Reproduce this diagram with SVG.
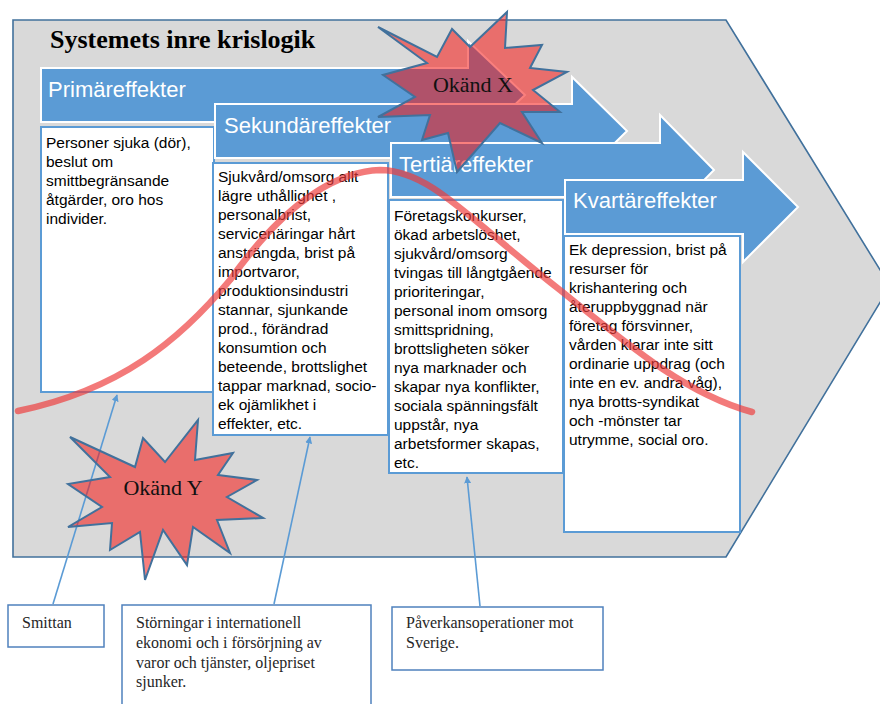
<svg xmlns="http://www.w3.org/2000/svg" width="880" height="704" viewBox="0 0 880 704">
<defs>
<style>
.arrow{fill:#5b9bd5;stroke:#ffffff;stroke-width:2}
.alabel{font-family:"Liberation Sans",Arial,sans-serif;font-size:22px;fill:#ffffff}
.box{fill:#ffffff;stroke:#5b9bd5;stroke-width:2}
.btext{font-family:"Liberation Sans",Arial,sans-serif;font-size:15.5px;fill:#000000}
.star{fill:#f61513;fill-opacity:0.55;stroke:#41719c;stroke-width:2;stroke-linejoin:miter}
.stext{font-family:"Liberation Serif","Times New Roman",serif;font-size:22px;fill:#111111}
.conn{stroke:#5b9bd5;stroke-width:1.6;fill:none}
.lbox{fill:#ffffff;stroke:#4f81bd;stroke-width:1.5}
.ltext{font-family:"Liberation Serif","Times New Roman",serif;font-size:16px;fill:#262626}
</style>
<marker id="ah" viewBox="0 0 10 10" refX="9" refY="5" markerWidth="7" markerHeight="7" markerUnits="userSpaceOnUse" orient="auto">
<path d="M0,0 L10,5 L0,10 Z" fill="#5b9bd5"/>
</marker>
</defs>

<g id="background">
<path d="M13,20 H726 L890,286 L726,557 H13 Z" fill="#d9d9d9" stroke="#41719c" stroke-width="1.6"/>
<text x="50" y="48" font-family="Liberation Serif,'Times New Roman',serif" font-weight="bold" font-size="26px" fill="#000000">Systemets inre krislogik</text>
</g>

<g id="primar">
<path class="arrow" d="M41,68 H468 V41 L525,95 L468,149 V122 H41 Z"/>
<text class="alabel" x="48" y="97">Primäreffekter</text>
</g>
<g id="box-primar">
<rect class="box" x="41" y="127" width="173" height="265"/>
<text class="btext" x="46" y="148">
<tspan x="46">Personer sjuka (dör),</tspan>
<tspan x="46" dy="19">beslut om</tspan>
<tspan x="46" dy="19">smittbegränsande</tspan>
<tspan x="46" dy="19">åtgärder, oro hos</tspan>
<tspan x="46" dy="19">individer.</tspan>
</text>
</g>

<g id="sekundar">
<path class="arrow" d="M215,104 H572 V77 L627,131 L572,185 V158 H215 Z"/>
<text class="alabel" x="224" y="133">Sekundäreffekter</text>
</g>
<g id="box-sekundar">
<rect class="box" x="213" y="163" width="175" height="272"/>
<text class="btext" x="218" y="182">
<tspan x="218">Sjukvård/omsorg allt</tspan>
<tspan x="218" dy="19">lägre uthållighet ,</tspan>
<tspan x="218" dy="19">personalbrist,</tspan>
<tspan x="218" dy="19">servicenäringar hårt</tspan>
<tspan x="218" dy="19">ansträngda, brist på</tspan>
<tspan x="218" dy="19">importvaror,</tspan>
<tspan x="218" dy="19">produktionsindustri</tspan>
<tspan x="218" dy="19">stannar, sjunkande</tspan>
<tspan x="218" dy="19">prod., förändrad</tspan>
<tspan x="218" dy="19">konsumtion och</tspan>
<tspan x="218" dy="19">beteende, brottslighet</tspan>
<tspan x="218" dy="19">tappar marknad, socio-</tspan>
<tspan x="218" dy="19">ek ojämlikhet i</tspan>
<tspan x="218" dy="19">effekter, etc.</tspan>
</text>
</g>

<g id="tertiar">
<path class="arrow" d="M391,143 H660 V115 L714,170 L660,225 V197 H391 Z"/>
<text class="alabel" x="399" y="172">Tertiäreffekter</text>
</g>
<g id="box-tertiar">
<rect class="box" x="389" y="200" width="174" height="273"/>
<text class="btext" x="394" y="221">
<tspan x="394">Företagskonkurser,</tspan>
<tspan x="394" dy="19">ökad arbetslöshet,</tspan>
<tspan x="394" dy="19">sjukvård/omsorg</tspan>
<tspan x="394" dy="19">tvingas till långtgående</tspan>
<tspan x="394" dy="19">prioriteringar,</tspan>
<tspan x="394" dy="19">personal inom omsorg</tspan>
<tspan x="394" dy="19">smittspridning,</tspan>
<tspan x="394" dy="19">brottsligheten söker</tspan>
<tspan x="394" dy="19">nya marknader och</tspan>
<tspan x="394" dy="19">skapar nya konflikter,</tspan>
<tspan x="394" dy="19">sociala spänningsfält</tspan>
<tspan x="394" dy="19">uppstår, nya</tspan>
<tspan x="394" dy="19">arbetsformer skapas,</tspan>
<tspan x="394" dy="19">etc.</tspan>
</text>
</g>

<g id="kvartar">
<path class="arrow" d="M565,180 H743 V152 L798,207 L743,262 V234 H565 Z"/>
<text class="alabel" x="573" y="208">Kvartäreffekter</text>
</g>
<g id="box-kvartar">
<rect class="box" x="564" y="236" width="176" height="296"/>
<text class="btext" x="569" y="255">
<tspan x="569">Ek depression, brist på</tspan>
<tspan x="569" dy="19">resurser för</tspan>
<tspan x="569" dy="19">krishantering och</tspan>
<tspan x="569" dy="19">återuppbyggnad när</tspan>
<tspan x="569" dy="19">företag försvinner,</tspan>
<tspan x="569" dy="19">vården klarar inte sitt</tspan>
<tspan x="569" dy="19">ordinarie uppdrag (och</tspan>
<tspan x="569" dy="19">inte en ev. andra våg),</tspan>
<tspan x="569" dy="19">nya brotts-syndikat</tspan>
<tspan x="569" dy="19">och -mönster tar</tspan>
<tspan x="569" dy="19">utrymme, social oro.</tspan>
</text>
</g>

<g id="kurva">
<path d="M18,411 C120,390 180,340 230,280 C280,210 330,172 380,170 C430,170 470,220 560,290 C640,355 690,395 752,412" fill="none" stroke="#ee3b3b" stroke-opacity="0.68" stroke-width="6.5" stroke-linecap="round"/>
</g>

<g id="connectors">
<line class="conn" x1="53" y1="604" x2="117" y2="395" marker-end="url(#ah)"/>
<line class="conn" x1="274" y1="604" x2="310" y2="437" marker-end="url(#ah)"/>
<line class="conn" x1="480" y1="606" x2="467" y2="477" marker-end="url(#ah)"/>
</g>

<g id="okand-x">
<polygon class="star" points="378,27 437,57 452,29 470,47 507,12 505,48 542,45 530,68 567,72 533,90 560,112 522,112 542,143 500,123 457,172 448,133 422,140 430,115 378,117 415,97 383,75 427,63"/>
<text class="stext" x="473" y="92" text-anchor="middle">Okänd X</text>
</g>

<g id="okand-y">
<polygon class="star" points="70,437 135,467 143,438 165,462 198,420 195,460 233,453 218,475 257,480 227,497 263,518 217,520 230,553 193,527 187,565 163,530 145,580 140,532 110,550 112,523 68,527 102,507 68,484 110,477"/>
<text class="stext" x="163" y="495" text-anchor="middle">Okänd Y</text>
</g>

<g id="smittan">
<rect class="lbox" x="8" y="605" width="96" height="42"/>
<text class="ltext" x="22" y="628">Smittan</text>
</g>

<g id="storningar">
<rect class="lbox" x="122" y="605" width="249" height="110"/>
<text class="ltext" x="136" y="628">
<tspan x="136">Störningar i internationell</tspan>
<tspan x="136" dy="20">ekonomi och i försörjning av</tspan>
<tspan x="136" dy="20">varor och tjänster, oljepriset</tspan>
<tspan x="136" dy="19">sjunker.</tspan>
</text>
</g>

<g id="paverkan">
<rect class="lbox" x="392" y="607" width="211" height="63"/>
<text class="ltext" x="406" y="628">
<tspan x="406">Påverkansoperationer mot</tspan>
<tspan x="406" dy="20">Sverige.</tspan>
</text>
</g>
</svg>
